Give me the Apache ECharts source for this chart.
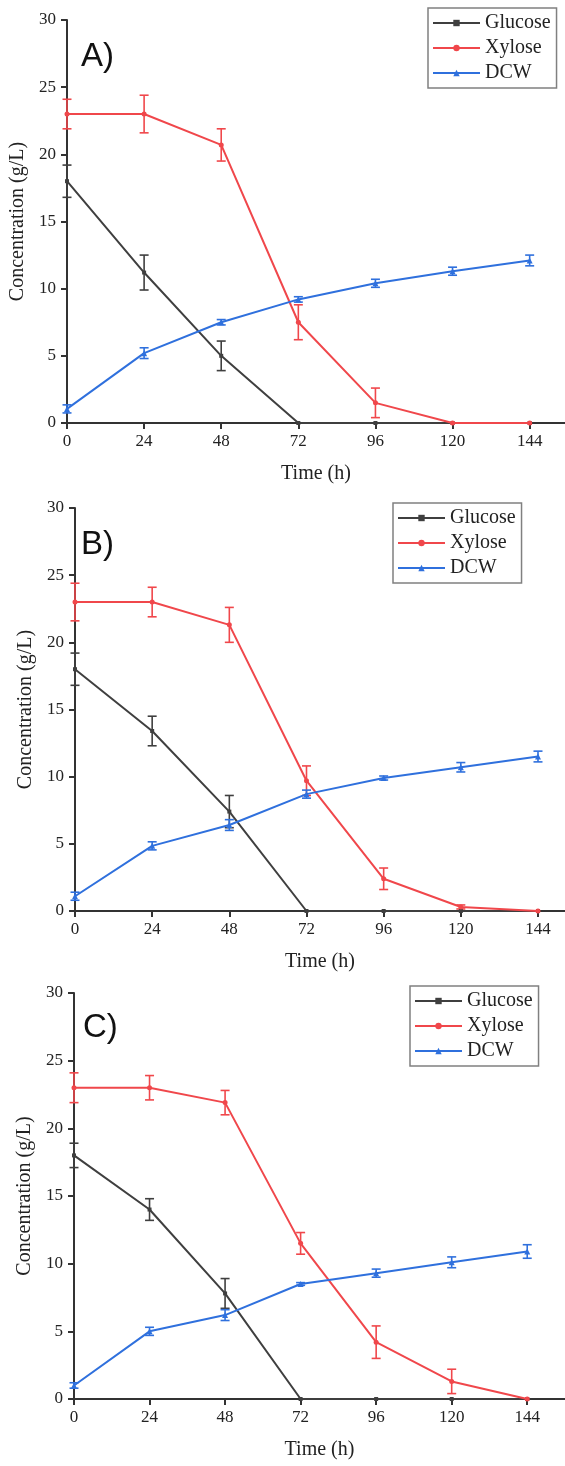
<!DOCTYPE html>
<html>
<head>
<meta charset="utf-8">
<script src="https://cdn.jsdelivr.net/npm/echarts@6/dist/echarts.min.js"></script>
<style>
  html, body { margin: 0; padding: 0; background: #fff; }
  #chart { width: 565px; height: 1466px; }
</style>
</head>
<body>
<div id="chart"></div>
<script>
// Sampling times (h)
const times = [0, 24, 48, 72, 96, 120, 144];
const xTicks = [0, 24, 48, 72, 96, 120, 144];
const yTicks = [0, 5, 10, 15, 20, 25, 30];
const seriesNames = ['Glucose', 'Xylose', 'DCW'];
const panelLabels = ['A)', 'B)', 'C)'];

// Panel A
const glucoseA = [18.0, 11.2, 5.0, 0, 0, 0, 0];
const glucoseErrA = [1.2, 1.3, 1.1, 0, 0, 0, 0];
const xyloseA = [23.0, 23.0, 20.7, 7.5, 1.5, 0, 0];
const xyloseErrA = [1.1, 1.4, 1.2, 1.3, 1.1, 0, 0];
const dcwA = [1.05, 5.2, 7.5, 9.2, 10.4, 11.3, 12.1];
const dcwErrA = [0.3, 0.4, 0.2, 0.2, 0.3, 0.3, 0.4];

// Panel B
const glucoseB = [18.0, 13.4, 7.4, 0, 0, 0, 0];
const glucoseErrB = [1.2, 1.1, 1.2, 0, 0, 0, 0];
const xyloseB = [23.0, 23.0, 21.3, 9.7, 2.4, 0.3, 0];
const xyloseErrB = [1.4, 1.1, 1.3, 1.1, 0.8, 0.15, 0];
const dcwB = [1.1, 4.85, 6.4, 8.7, 9.9, 10.7, 11.5];
const dcwErrB = [0.3, 0.3, 0.4, 0.3, 0.15, 0.35, 0.4];

// Panel C
const glucoseC = [18.0, 14.0, 7.8, 0, 0, 0, 0];
const glucoseErrC = [0.9, 0.8, 1.1, 0, 0, 0, 0];
const xyloseC = [23.0, 23.0, 21.9, 11.5, 4.2, 1.3, 0];
const xyloseErrC = [1.1, 0.9, 0.9, 0.8, 1.2, 0.9, 0];
const dcwC = [1.0, 5.0, 6.2, 8.5, 9.3, 10.1, 10.9];
const dcwErrC = [0.2, 0.3, 0.4, 0.1, 0.3, 0.4, 0.5];

const panels = [
  { g: glucoseA, ge: glucoseErrA, x: xyloseA, xe: xyloseErrA, d: dcwA, de: dcwErrA },
  { g: glucoseB, ge: glucoseErrB, x: xyloseB, xe: xyloseErrB, d: dcwB, de: dcwErrB },
  { g: glucoseC, ge: glucoseErrC, x: xyloseC, xe: xyloseErrC, d: dcwC, de: dcwErrC }
];

const colors = ['#3f3f3f', '#f0474b', '#2f70dd'];
const symbols = ['rect', 'circle', 'triangle'];
const symbolSizes = [4, 5, 6];

// Layout of the three stacked panels
const layout = [
  { left: 67, top: 20, height: 403, xMax: 155, legendLeft: 428, legendTop: 8, labelX: 81, labelY: 60 },
  { left: 75, top: 508, height: 403, xMax: 152.4, legendLeft: 393, legendTop: 503, labelX: 81, labelY: 548 },
  { left: 74, top: 993, height: 406, xMax: 156, legendLeft: 410, legendTop: 986, labelX: 83, labelY: 1031 }
];

const axisColor = '#333';
const serif = 'Liberation Serif';

function errorBarRenderer(color) {
  return function (params, api) {
    const x = api.value(0), y = api.value(1), e = api.value(2);
    if (!(e > 0)) return null;
    const hi = api.coord([x, y + e]);
    const lo = api.coord([x, y - e]);
    const w = 4.5;
    const st = { stroke: color, lineWidth: 1.6 };
    return {
      type: 'group',
      children: [
        { type: 'line', shape: { x1: hi[0], y1: hi[1], x2: lo[0], y2: lo[1] }, style: st },
        { type: 'line', shape: { x1: hi[0] - w, y1: hi[1], x2: hi[0] + w, y2: hi[1] }, style: st },
        { type: 'line', shape: { x1: lo[0] - w, y1: lo[1], x2: lo[0] + w, y2: lo[1] }, style: st }
      ]
    };
  };
}

const grid = [], xAxis = [], yAxis = [], legend = [], series = [], graphic = [];

layout.forEach((L, i) => {
  grid.push({ left: L.left, top: L.top, height: L.height, right: 0 });
  xAxis.push({
    type: 'value', gridIndex: i, min: 0, max: L.xMax,
    name: 'Time (h)', nameLocation: 'middle', nameGap: 41,
    nameTextStyle: { fontFamily: serif, fontSize: 20, color: '#222' },
    axisLine: { show: true, lineStyle: { color: axisColor, width: 2 } },
    axisTick: { show: true, length: 6, lineStyle: { color: axisColor, width: 2 }, customValues: xTicks },
    axisLabel: { fontFamily: serif, fontSize: 17, color: '#222', margin: 10, customValues: xTicks },
    splitLine: { show: false }
  });
  yAxis.push({
    type: 'value', gridIndex: i, min: 0, max: 30, interval: 5,
    name: 'Concentration (g/L)', nameLocation: 'middle', nameGap: 31,
    nameTextStyle: { fontFamily: serif, fontSize: 20, color: '#222' },
    axisLine: { show: true, lineStyle: { color: axisColor, width: 2 } },
    axisTick: { show: true, length: 6, lineStyle: { color: axisColor, width: 2 }, customValues: yTicks },
    axisLabel: { fontFamily: serif, fontSize: 17, color: '#222', margin: 11, customValues: yTicks },
    splitLine: { show: false }
  });
  legend.push({
    orient: 'vertical', left: L.legendLeft, top: L.legendTop,
    data: seriesNames,
    itemWidth: 47, itemHeight: 8, itemGap: 5,
    padding: [5, 6, 5, 4],
    borderColor: '#808080', borderWidth: 1.5,
    textStyle: { fontFamily: serif, fontSize: 20, color: '#222', lineHeight: 20 },
    selectedMode: false
  });
  graphic.push({
    type: 'text', left: L.labelX, top: L.labelY - 20,
    style: { text: panelLabels[i], font: '33px "Liberation Sans"', fill: '#111' }
  });

  const p = panels[i];
  const vals = [p.g, p.x, p.d];
  const errs = [p.ge, p.xe, p.de];
  vals.forEach((v, k) => {
    series.push({
      type: 'custom', xAxisIndex: i, yAxisIndex: i,
      renderItem: errorBarRenderer(colors[k]),
      data: times.map((t, j) => [t, v[j], errs[k][j]]),
      encode: { x: 0, y: 1 }, clip: false, z: 3, silent: true
    });
  });
  vals.forEach((v, k) => {
    series.push({
      name: seriesNames[k], type: 'line', xAxisIndex: i, yAxisIndex: i,
      data: times.map((t, j) => [t, v[j]]),
      color: colors[k],
      symbol: symbols[k], symbolSize: symbolSizes[k], showSymbol: true,
      lineStyle: { color: colors[k], width: 2 },
      itemStyle: { color: colors[k] },
      clip: false, z: 4 + k, animation: false
    });
  });
});

const chart = echarts.init(document.getElementById('chart'), null, { renderer: 'canvas' });
chart.setOption({
  animation: false,
  backgroundColor: '#fff',
  grid, xAxis, yAxis, legend, series, graphic
});
</script>
</body>
</html>
